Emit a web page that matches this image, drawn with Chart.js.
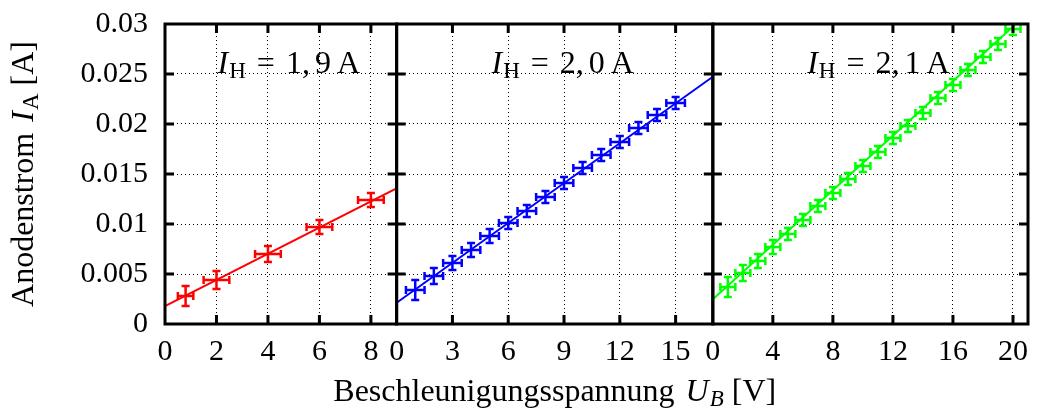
<!DOCTYPE html>
<html>
<head>
<meta charset="utf-8">
<script src="https://cdn.jsdelivr.net/npm/chart.js@4.4.0/dist/chart.umd.min.js"></script>
<style>
  html, body { margin: 0; padding: 0; background: #fff; }
  #wrap { width: 1037px; height: 414px; }
</style>
</head>
<body>
<div id="wrap"><canvas id="chart" width="1037" height="414"></canvas></div>
<script>
// Messwerte Anodenstrom gegen Beschleunigungsspannung, drei Heizstroeme

// I_H = 1,9 A
const redU  = [0.8, 2, 4, 6, 8];
const redI  = [0.0028, 0.0044, 0.0070, 0.0097, 0.0124];
const redDU = [0.3, 0.5, 0.5, 0.5, 0.5];
const redDI = [0.0010, 0.0009, 0.0008, 0.0007, 0.0007];
const fitRedU = [0, 9.1];
const fitRedI = [0.0018, 0.0137];

// I_H = 2,0 A
const blueU  = [1, 2, 3, 4, 5, 6, 7, 8, 9, 10, 11, 12, 13, 14, 15];
const blueI  = [0.0034, 0.0048, 0.0061, 0.0074, 0.0088, 0.0101, 0.0113, 0.0127,
                0.0141, 0.0156, 0.0169, 0.0182, 0.0196, 0.0209, 0.0221];
const blueDU = [0.5, 0.5, 0.5, 0.5, 0.5, 0.5, 0.5, 0.5, 0.5, 0.5, 0.5, 0.5, 0.5, 0.5, 0.5];
const blueDI = [0.0010, 0.0008, 0.0007, 0.0007, 0.0007, 0.0006, 0.0006, 0.0006,
                0.0006, 0.0006, 0.0006, 0.0006, 0.0006, 0.0006, 0.0006];
const fitBlueU = [0, 17];
const fitBlueI = [0.00213, 0.02473];

// I_H = 2,1 A
const greenU  = [1, 2, 3, 4, 5, 6, 7, 8, 9, 10, 11, 12, 13, 14, 15, 16, 17, 18, 19, 20];
const greenI  = [0.0037, 0.0051, 0.0063, 0.0077, 0.0090, 0.0104, 0.0118, 0.0131, 0.0145, 0.0158,
                 0.0172, 0.0186, 0.0198, 0.0211, 0.0226, 0.0239, 0.0254, 0.0267, 0.0280, 0.0295];
const greenDU = [0.5, 0.5, 0.5, 0.5, 0.5, 0.5, 0.5, 0.5, 0.5, 0.5,
                 0.5, 0.5, 0.5, 0.5, 0.5, 0.5, 0.5, 0.5, 0.5, 0.5];
const greenDI = [0.0010, 0.0008, 0.0007, 0.0007, 0.0006, 0.0006, 0.0006, 0.0006, 0.0006, 0.0006,
                 0.0006, 0.0006, 0.0006, 0.0006, 0.0006, 0.0006, 0.0006, 0.0006, 0.0006, 0.0006];
const fitGreenU = [0, 21];
const fitGreenI = [0.00247, 0.0311];

// achsen
const x1Ticks = [0, 2, 4, 6, 8];
const x2Ticks = [0, 3, 6, 9, 12, 15];
const x3Ticks = [0, 4, 8, 12, 16, 20];
const xMax = [9, 17, 21];
const yTicks = [0, 0.005, 0.01, 0.015, 0.02, 0.025, 0.03];
const yTickLabels = ['0', '0.005', '0.01', '0.015', '0.02', '0.025', '0.03'];
const panelLabels = ['1,9', '2,0', '2,1'];

const FONT = "'Liberation Serif', 'Times New Roman', serif";
const SIZE = 30;

function pts(xs, ys) {
  return xs.map((x, i) => ({ x: x, y: ys[i] }));
}

function fitSet(xs, ys, axis, color) {
  return { data: pts(xs, ys), xAxisID: axis, showLine: true, borderColor: color,
           borderWidth: 2, pointRadius: 0, clip: 0 };
}

function errSet(xs, ys, dx, dy, axis, color) {
  return { data: pts(xs, ys), xAxisID: axis, pointRadius: 0, borderColor: color,
           errU: dx, errI: dy, errColor: color };
}

function xAxis(ticks, max, weight) {
  return {
    type: 'linear', position: 'bottom', stack: 'u', stackWeight: weight,
    min: 0, max: max,
    afterBuildTicks: a => { a.ticks = ticks.map(v => ({ value: v })); },
    afterFit: a => { a.height = 90; a.paddingLeft = 0; a.paddingRight = 0; },
    grid: { color: '#000', lineWidth: 1, drawTicks: false },
    border: { display: false, dash: [1, 3] },
    ticks: { autoSkip: false, maxRotation: 0, padding: 10, color: '#000',
             font: { family: FONT, size: SIZE } }
  };
}

// zeichnet formel-stueckchen nebeneinander
function drawParts(ctx, parts, x, y) {
  let w = 0;
  parts.forEach(p => { ctx.font = p.f; w += ctx.measureText(p.t).width + (p.gap || 0); });
  let cx = x - w / 2;
  parts.forEach(p => {
    ctx.font = p.f;
    ctx.fillText(p.t, cx, y + (p.dy || 0));
    cx += ctx.measureText(p.t).width + (p.gap || 0);
  });
}

const roman = '32px ' + FONT;
const italic = 'italic 32px ' + FONT;
const small = '23px ' + FONT;
const smallIt = 'italic 23px ' + FONT;

const panelDecor = {
  id: 'panelDecor',
  afterDatasetsDraw(chart) {
    const ctx = chart.ctx, area = chart.chartArea, ys = chart.scales.y;
    chart.data.datasets.forEach(ds => {
      if (!ds.errU) return;
      const xs = chart.scales[ds.xAxisID];
      ctx.save();
      ctx.beginPath();
      ctx.rect(area.left, area.top, area.width, area.height);
      ctx.clip();
      ctx.strokeStyle = ds.errColor;
      ctx.lineWidth = 2.5;
      ds.data.forEach((p, i) => {
        const px = xs.getPixelForValue(p.x), py = ys.getPixelForValue(p.y);
        const xl = xs.getPixelForValue(p.x - ds.errU[i]);
        const xr = xs.getPixelForValue(p.x + ds.errU[i]);
        const yt = ys.getPixelForValue(p.y + ds.errI[i]);
        const yb = ys.getPixelForValue(p.y - ds.errI[i]);
        const c = 4;
        ctx.beginPath();
        ctx.moveTo(xl, py); ctx.lineTo(xr, py);
        ctx.moveTo(xl, py - c); ctx.lineTo(xl, py + c);
        ctx.moveTo(xr, py - c); ctx.lineTo(xr, py + c);
        ctx.moveTo(px, yt); ctx.lineTo(px, yb);
        ctx.moveTo(px - c, yt); ctx.lineTo(px + c, yt);
        ctx.moveTo(px - c, yb); ctx.lineTo(px + c, yb);
        ctx.stroke();
      });
      ctx.restore();
    });
  },
  afterDraw(chart) {
    const ctx = chart.ctx, area = chart.chartArea, ys = chart.scales.y;
    const tl = 9;
    ctx.save();
    ctx.strokeStyle = '#000';
    ctx.fillStyle = '#000';
    ctx.lineWidth = 3;
    ['x1', 'x2', 'x3'].forEach((id, k) => {
      const s = chart.scales[id];
      ctx.strokeRect(s.left, area.top, s.right - s.left, area.bottom - area.top);
      ctx.beginPath();
      s.ticks.forEach(t => {
        if (t.value === 0) return;
        const px = s.getPixelForValue(t.value);
        ctx.moveTo(px, area.bottom); ctx.lineTo(px, area.bottom - tl);
        ctx.moveTo(px, area.top); ctx.lineTo(px, area.top + tl);
      });
      yTicks.forEach(v => {
        if (v === 0 || v === 0.03) return;
        const py = ys.getPixelForValue(v);
        ctx.moveTo(s.left, py); ctx.lineTo(s.left + tl, py);
        ctx.moveTo(s.right, py); ctx.lineTo(s.right - tl, py);
      });
      ctx.stroke();

      // beschriftung im panel
      ctx.textBaseline = 'alphabetic';
      drawParts(ctx, [
        { t: 'I', f: italic, gap: 1 },
        { t: 'H', f: small, dy: 5, gap: 11 },
        { t: '=', f: roman, gap: 11 },
        { t: panelLabels[k].split(',')[0] + ',', f: roman, gap: 5 },
        { t: panelLabels[k].split(',')[1], f: roman, gap: 6 },
        { t: 'A', f: roman }
      ], (s.left + s.right) / 2 + 8, 73);
    });

    // achsentitel
    drawParts(ctx, [
      { t: 'Beschleunigungsspannung ', f: roman, gap: 3 },
      { t: 'U', f: italic, gap: 1 },
      { t: 'B', f: smallIt, dy: 5, gap: 8 },
      { t: '[V]', f: roman }
    ], (chart.scales.x2.left + chart.scales.x2.right) / 2, 401);

    ctx.translate(33, (area.top + area.bottom) / 2);
    ctx.rotate(-Math.PI / 2);
    drawParts(ctx, [
      { t: 'Anodenstrom ', f: roman, gap: 3 },
      { t: 'I', f: italic, gap: 1 },
      { t: 'A', f: small, dy: 5, gap: 8 },
      { t: '[A]', f: roman }
    ], 0, 0);
    ctx.restore();
  }
};

new Chart(document.getElementById('chart').getContext('2d'), {
  type: 'scatter',
  data: {
    datasets: [
      fitSet(fitRedU, fitRedI, 'x1', '#ff0000'),
      errSet(redU, redI, redDU, redDI, 'x1', '#ff0000'),
      fitSet(fitBlueU, fitBlueI, 'x2', '#0000ff'),
      errSet(blueU, blueI, blueDU, blueDI, 'x2', '#0000ff'),
      fitSet(fitGreenU, fitGreenI, 'x3', '#00ff00'),
      errSet(greenU, greenI, greenDU, greenDI, 'x3', '#00ff00')
    ]
  },
  options: {
    responsive: false,
    animation: false,
    layout: { padding: { top: 24, right: 9, left: 0, bottom: 0 } },
    plugins: { legend: { display: false }, tooltip: { enabled: false } },
    scales: {
      x1: xAxis(x1Ticks, xMax[0], 231.5),
      x2: xAxis(x2Ticks, xMax[1], 316),
      x3: xAxis(x3Ticks, xMax[2], 315),
      y: {
        type: 'linear', position: 'left', min: 0, max: 0.03,
        afterBuildTicks: a => { a.ticks = yTicks.map(v => ({ value: v })); },
        afterFit: a => { a.width = 165; a.paddingTop = 0; a.paddingBottom = 0; },
        grid: { color: '#000', lineWidth: 1, drawTicks: false },
        border: { display: false, dash: [1, 3] },
        ticks: { padding: 17, color: '#000', font: { family: FONT, size: SIZE },
                 callback: (v, i) => yTickLabels[i] }
      }
    }
  },
  plugins: [panelDecor]
});
</script>
</body>
</html>
